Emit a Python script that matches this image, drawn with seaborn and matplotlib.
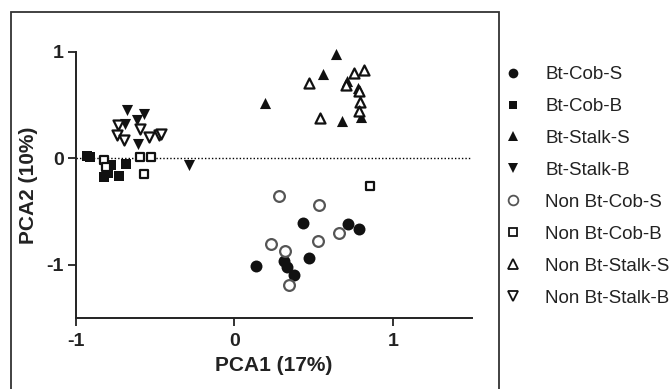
import matplotlib
matplotlib.use("Agg")
import matplotlib.pyplot as plt
from matplotlib.lines import Line2D
from matplotlib.patches import Rectangle
import seaborn as sns
import pandas as pd

# PCA scores, one pair of lists per group
bt_cob_s_x = [0.435, 0.717, 0.787, 0.139, 0.312, 0.329, 0.375, 0.470]
bt_cob_s_y = [-0.610, -0.620, -0.667, -1.013, -0.965, -1.019, -1.097, -0.940]

bt_cob_b_x = [-0.93, -0.911, -0.778, -0.795, -0.823, -0.728, -0.684]
bt_cob_b_y = [0.02, 0.009, -0.066, -0.138, -0.179, -0.170, -0.050]

bt_stalk_s_x = [0.643, 0.559, 0.709, 0.780, 0.681, 0.802, 0.196]
bt_stalk_s_y = [0.978, 0.795, 0.726, 0.663, 0.349, 0.387, 0.522]

bt_stalk_b_x = [-0.679, -0.568, -0.690, -0.616, -0.606, -0.289]
bt_stalk_b_y = [0.459, 0.418, 0.324, 0.358, 0.135, -0.066]

non_cob_s_x = [0.281, 0.536, 0.234, 0.319, 0.530, 0.662, 0.344]
non_cob_s_y = [-0.358, -0.437, -0.805, -0.868, -0.774, -0.704, -1.192]

non_cob_b_x = [-0.823, -0.812, -0.595, -0.525, -0.568, 0.856]
non_cob_b_y = [-0.013, -0.080, 0.009, 0.009, -0.145, -0.264]

non_stalk_s_x = [0.470, 0.755, 0.818, 0.703, 0.787, 0.791, 0.787, 0.538]
non_stalk_s_y = [0.710, 0.805, 0.830, 0.686, 0.632, 0.531, 0.443, 0.380]

non_stalk_b_x = [-0.732, -0.742, -0.700, -0.599, -0.536, -0.473, -0.464]
non_stalk_b_y = [0.311, 0.217, 0.176, 0.280, 0.198, 0.217, 0.229]

groups = ["Bt-Cob-S", "Bt-Cob-B", "Bt-Stalk-S", "Bt-Stalk-B",
          "Non Bt-Cob-S", "Non Bt-Cob-B", "Non Bt-Stalk-S", "Non Bt-Stalk-B"]
xs = [bt_cob_s_x, bt_cob_b_x, bt_stalk_s_x, bt_stalk_b_x,
      non_cob_s_x, non_cob_b_x, non_stalk_s_x, non_stalk_b_x]
ys = [bt_cob_s_y, bt_cob_b_y, bt_stalk_s_y, bt_stalk_b_y,
      non_cob_s_y, non_cob_b_y, non_stalk_s_y, non_stalk_b_y]

df = pd.concat([pd.DataFrame({"PCA1": x, "PCA2": y, "group": g})
                for g, x, y in zip(groups, xs, ys)], ignore_index=True)

# marker, size, filled, edge colour
styles = {
    "Bt-Cob-S": ("o", 74, True, "#111111"),
    "Bt-Cob-B": ("s", 45, True, "#111111"),
    "Bt-Stalk-S": ("^", 64, True, "#111111"),
    "Bt-Stalk-B": ("v", 64, True, "#111111"),
    "Non Bt-Cob-S": ("o", 60, False, "#555555"),
    "Non Bt-Cob-B": ("s", 38, False, "#111111"),
    "Non Bt-Stalk-S": ("^", 52, False, "#111111"),
    "Non Bt-Stalk-B": ("v", 52, False, "#111111"),
}

sns.set_style("ticks")
plt.rcParams['font.family'] = ['Liberation Sans', 'DejaVu Sans']

fig = plt.figure(figsize=(6.7, 3.89), dpi=100)
ax = fig.add_axes([76 / 670, 1 - 318 / 389, 396 / 670, 266 / 389])

ax.axhline(0, color="black", lw=1.0, ls=(0, (1, 1.5)), zorder=1)

handles = []
for g in groups:
    m, s, filled, ec = styles[g]
    sub = df[df["group"] == g]
    sns.scatterplot(data=sub, x="PCA1", y="PCA2", ax=ax, marker=m, s=s,
                    facecolor=ec if filled else "white", edgecolor=ec,
                    linewidth=0 if filled else 1.6, clip_on=False, zorder=3)
    handles.append(Line2D([], [], ls="none", marker=m,
                          markersize=7 if m in "o^v" else 6,
                          markerfacecolor=ec if filled else "white",
                          markeredgecolor=ec, markeredgewidth=0 if filled else 1.3,
                          label=g))

ax.set_xlim(-1, 1.5)
ax.set_ylim(-1.5, 1)
ax.set_xticks([-1, 0, 1])
ax.set_yticks([-1, 0, 1])
ax.set_xticklabels(["-1", "0", "1"], fontsize=14, fontweight="bold", color="#222222")
ax.set_yticklabels(["-1", "0", "1"], fontsize=14, fontweight="bold", color="#222222")
ax.set_xlabel("PCA1 (17%)", fontsize=15, fontweight="bold", color="#222222", labelpad=4)
ax.set_ylabel("PCA2 (10%)", fontsize=15, fontweight="bold", color="#222222", labelpad=6)
ax.tick_params(length=6, width=1.3, color="#222222", pad=3)
ax.tick_params(axis="x", pad=5)
for side in ["left", "bottom"]:
    ax.spines[side].set_linewidth(1.4)
    ax.spines[side].set_color("#222222")
sns.despine(ax=ax)

fig.legend(handles=handles, loc="upper left", bbox_to_anchor=(504 / 670, 1 - 66 / 389),
           frameon=False, fontsize=13.5, labelspacing=0.79, handlelength=1.0,
           handletextpad=1.2, labelcolor="#222222", borderaxespad=0, borderpad=0)

# outer frame of the panel
fig.add_artist(Rectangle((11 / 670, -0.05), 488 / 670, 1.05 - 12 / 389,
                         transform=fig.transFigure, fill=False, lw=1.3,
                         edgecolor="#333333", clip_on=False))

fig.savefig("out.png", dpi=100)
